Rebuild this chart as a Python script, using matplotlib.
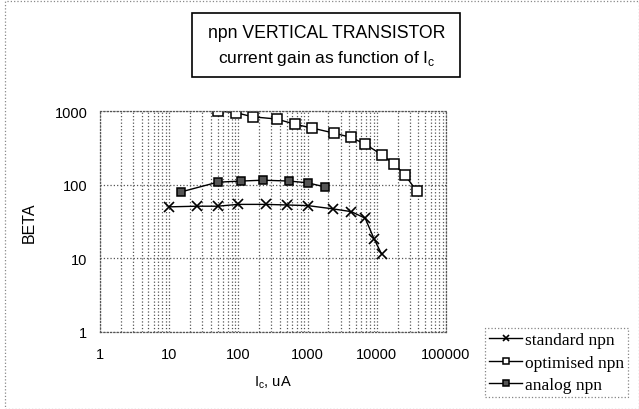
import numpy as np
import matplotlib.pyplot as plt
from matplotlib.patches import Rectangle
from matplotlib.ticker import LogLocator, FixedLocator, NullFormatter

# data
std_ic = [10, 25, 50, 100, 250, 500, 1000, 2300, 4300, 6800, 9100, 11700]
std_beta = [50, 51, 51, 54, 54, 53, 52, 47, 43, 35, 18.5, 11.5]

opt_ic = [50, 92, 160, 360, 660, 1170, 2440, 4260, 6800, 12000, 17800, 25500, 37900]
opt_beta = [1000, 950, 834, 778, 660, 586, 500, 437, 355, 252, 190, 136, 81]

ana_ic = [15, 50, 110, 225, 540, 1000, 1800]
ana_beta = [80, 108, 112, 115, 112, 106, 93]

plt.rcParams['font.family'] = ['Liberation Sans', 'DejaVu Sans']

fig = plt.figure(figsize=(6.39, 4.10), dpi=100)
ax = fig.add_axes([100/639, 1-333/410, 346/639, 221/410])

ax.plot(std_ic, std_beta, 'k-', marker='x', markersize=7, markeredgewidth=1.2,
        linewidth=1, label='standard npn')
ax.plot(opt_ic, opt_beta, 'k-', marker='s', markersize=6.5, markerfacecolor='white',
        markeredgewidth=1.1, linewidth=1, label='optimised npn')
ax.plot(ana_ic, ana_beta, 'k-', marker='s', markersize=6, markerfacecolor='#555555',
        markeredgewidth=1.1, linewidth=1, label='analog npn')

ax.set_xscale('log')
ax.set_yscale('log')
ax.set_xlim(1, 100000)
ax.set_ylim(1, 1000)
ax.xaxis.set_major_locator(FixedLocator([1, 10, 100, 1000, 10000, 100000]))
ax.xaxis.set_minor_locator(LogLocator(base=10, subs=np.arange(2, 10)))
ax.xaxis.set_minor_formatter(NullFormatter())
ax.yaxis.set_major_locator(FixedLocator([1, 10, 100, 1000]))
ax.yaxis.set_minor_locator(FixedLocator([]))
ax.set_xticklabels(['1', '10', '100', '1000', '10000', '100000'])
ax.set_yticklabels(['1', '10', '100', '1000'])
ax.tick_params(axis='both', which='both', length=0, labelsize=10.5)
ax.tick_params(axis='x', pad=11)
ax.tick_params(axis='y', pad=9)

ax.grid(True, which='major', axis='both', color='#555555', linestyle=':', linewidth=0.9)
ax.grid(True, which='minor', axis='x', color='#555555', linestyle=':', linewidth=0.9)
for s in ax.spines.values():
    s.set_linestyle(':')
    s.set_color('#555555')
    s.set_linewidth(0.9)

ax.set_ylabel('BETA', fontsize=11.5, labelpad=13)
ax.set_xlabel('I$_\\mathregular{c}$, uA', fontsize=10.5, labelpad=9)

# title box
fig.text(327/639, 1-34/410, 'npn VERTICAL TRANSISTOR', ha='center', va='center',
         fontsize=12.7)
fig.text(327/639, 1-58/410, 'current gain as function of I$_\\mathregular{c}$',
         ha='center', va='center', fontsize=12.5)
fig.patches.append(Rectangle((192/639, 1-78/410), 268/639, 64/410, transform=fig.transFigure,
                             fill=False, edgecolor='black', linewidth=1.2))

# outer chart border
fig.patches.append(Rectangle((5/639, 0), 634/639, 1-2/410, transform=fig.transFigure,
                             fill=False, edgecolor='#888888', linestyle=':', linewidth=0.9))

leg = fig.legend(loc='upper left', bbox_to_anchor=(485/639, 1-329/410),
                 prop={'family': 'Liberation Serif', 'size': 12.5},
                 handlelength=1.9, handletextpad=0.15, labelspacing=0.35,
                 borderpad=0.25, borderaxespad=0, fancybox=False, markerscale=0.7)
leg.get_frame().set_edgecolor('#666666')
leg.get_frame().set_linestyle(':')
leg.get_frame().set_linewidth(0.9)

plt.savefig('out.png', dpi=100, facecolor='w', edgecolor='w')
